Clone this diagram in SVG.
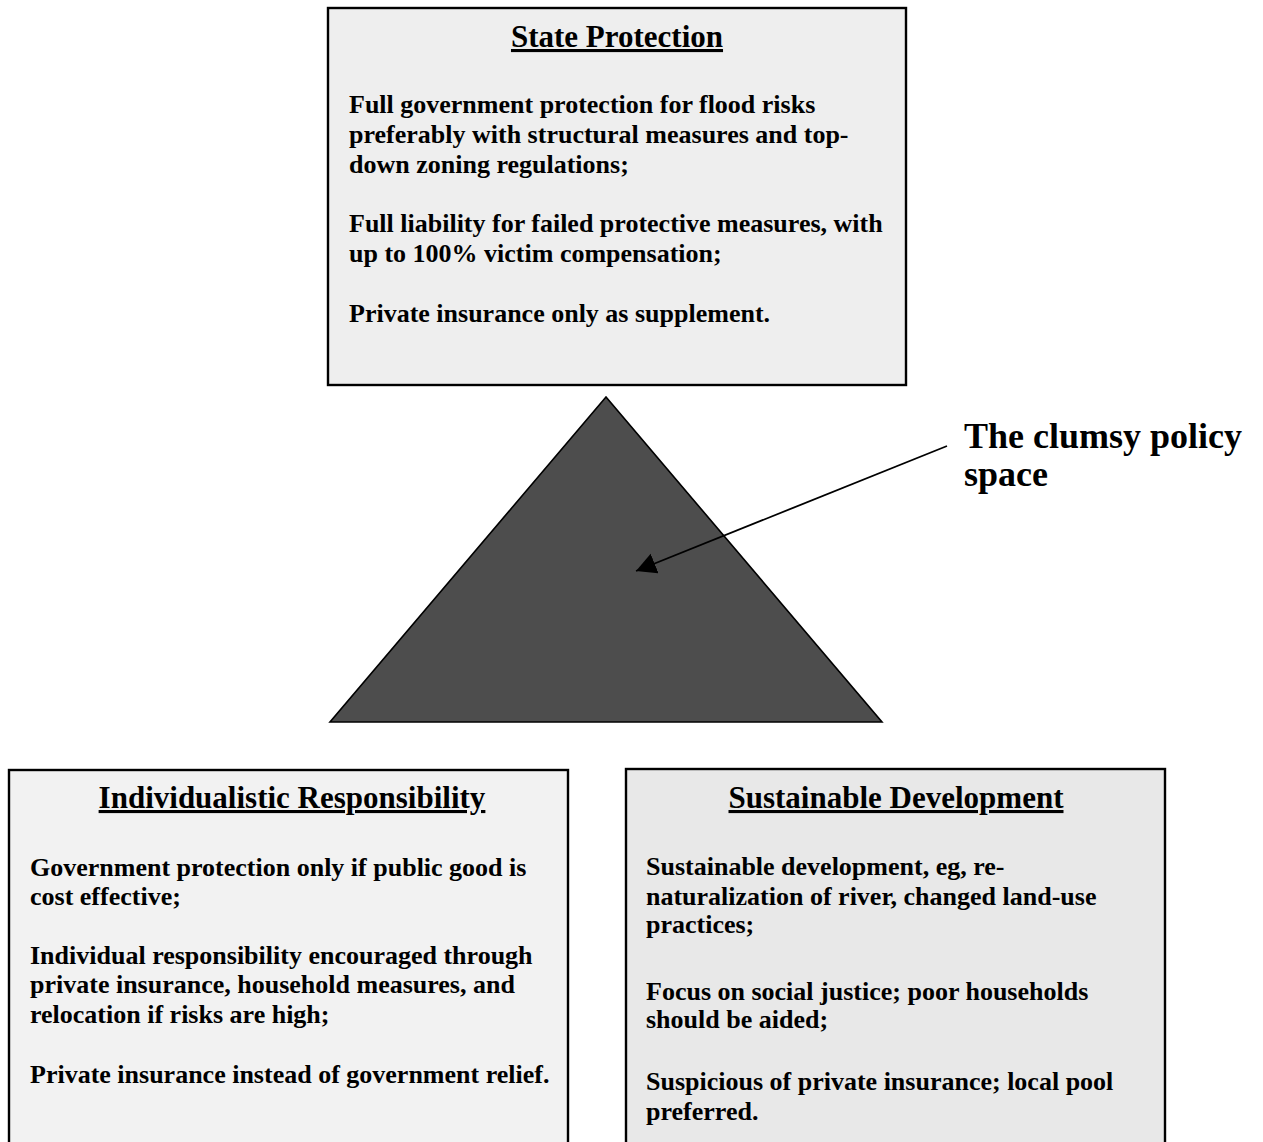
<svg xmlns="http://www.w3.org/2000/svg" width="1263" height="1142" viewBox="0 0 1263 1142">
<defs>
<style>
.box{stroke:#000;stroke-width:2.4}
.t{font-family:"Liberation Serif","Times New Roman",serif;font-weight:bold;fill:#000}
.title{font-size:31px;text-anchor:middle;text-decoration:underline}
.body{font-size:26px}
.big{font-size:36px}
</style>
<marker id="ah" markerUnits="userSpaceOnUse" markerWidth="22" markerHeight="22" refX="20" refY="10.5" orient="auto" viewBox="0 0 22 22">
<path d="M0,0 L20,10.5 L0,21 z" fill="#000"/>
</marker>
</defs>
<rect width="1263" height="1142" fill="#fff"/>
<g id="state-protection">
<rect class="box" x="328" y="8" width="578" height="377" fill="#eeeeee"/>
<text class="t title" x="617" y="47">State Protection</text>
<text class="t body" x="349" y="113">Full government protection for flood risks</text>
<text class="t body" x="349" y="143">preferably with structural measures and top-</text>
<text class="t body" x="349" y="173">down zoning regulations;</text>
<text class="t body" x="349" y="232">Full liability for failed protective measures, with</text>
<text class="t body" x="349" y="262">up to 100% victim compensation;</text>
<text class="t body" x="349" y="322">Private insurance only as supplement.</text>
</g>
<g id="policy-space">
<polygon points="606,397 330,722 882,722" fill="#4d4d4d" stroke="#000" stroke-width="1.6" stroke-linejoin="miter"/>
</g>
<g id="clumsy-label">
<text class="t big" x="964" y="448">The clumsy policy</text>
<text class="t big" x="964" y="486">space</text>
</g>
<g id="individualistic-responsibility">
<rect class="box" x="9" y="770" width="559" height="400" fill="#f2f2f2"/>
<text class="t title" x="292" y="808">Individualistic Responsibility</text>
<text class="t body" x="30" y="876">Government protection only if public good is</text>
<text class="t body" x="30" y="905">cost effective;</text>
<text class="t body" x="30" y="964">Individual responsibility encouraged through</text>
<text class="t body" x="30" y="993">private insurance, household measures, and</text>
<text class="t body" x="30" y="1023">relocation if risks are high;</text>
<text class="t body" x="30" y="1083">Private insurance instead of government relief.</text>
</g>
<g id="sustainable-development">
<rect class="box" x="626" y="769" width="539" height="400" fill="#e8e8e8"/>
<text class="t title" x="896" y="808">Sustainable Development</text>
<text class="t body" x="646" y="875">Sustainable development, eg, re-</text>
<text class="t body" x="646" y="905">naturalization of river, changed land-use</text>
<text class="t body" x="646" y="933">practices;</text>
<text class="t body" x="646" y="1000">Focus on social justice; poor households</text>
<text class="t body" x="646" y="1028">should be aided;</text>
<text class="t body" x="646" y="1090">Suspicious of private insurance; local pool</text>
<text class="t body" x="646" y="1120">preferred.</text>
</g>
<g id="connectors">
<line x1="947" y1="446" x2="636" y2="571" stroke="#000" stroke-width="1.8" marker-end="url(#ah)"/>
</g>
</svg>
